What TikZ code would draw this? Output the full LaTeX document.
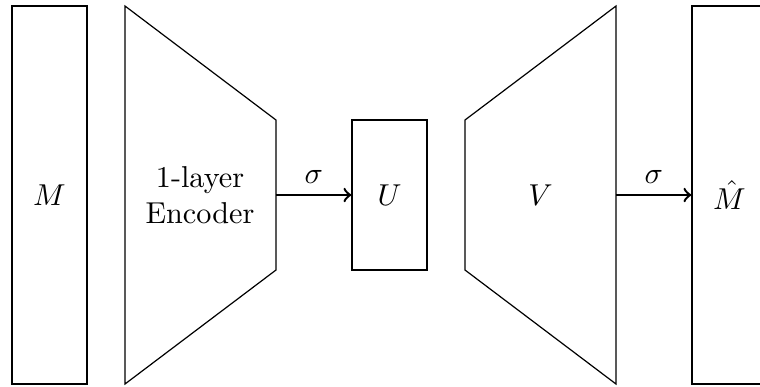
\documentclass[tikz,border=0pt]{standalone}
\usepackage{amsmath}
\usepackage{tikz}
\usetikzlibrary{positioning, calc}

\begin{document}
\begin{tikzpicture}[
    x=0.331pt, y=-0.331pt,
    block/.style={draw, minimum width=75*0.331pt, inner sep=0pt},
    label/.style={font=\normalsize, align=center},
    arr/.style={->, thick},
]
\useasboundingbox (0,0) rectangle (760,386);

% Input matrix
\node[block, minimum height=378*0.331pt] (m) at (49.5, 195) {$M$};

% Encoder (trapezoid)
\coordinate (enc-tl) at (125, 6);
\coordinate (enc-bl) at (125, 384);
\coordinate (enc-tr) at (276, 120);
\coordinate (enc-br) at (276, 270);
\draw (enc-tl) -- (enc-tr) -- (enc-br) -- (enc-bl) -- cycle;
\node[label] (enc) at (200, 195) {1-layer\\Encoder};
\coordinate (enc-out) at ($(enc-tr)!0.5!(enc-br)$);

% Latent code
\node[block, minimum height=150*0.331pt] (u) at (389.5, 195) {$U$};

% Decoder (trapezoid)
\coordinate (dec-tl) at (465, 120);
\coordinate (dec-bl) at (465, 270);
\coordinate (dec-tr) at (616, 6);
\coordinate (dec-br) at (616, 384);
\draw (dec-tl) -- (dec-tr) -- (dec-br) -- (dec-bl) -- cycle;
\node[label] (dec) at (540.5, 195) {$V$};
\coordinate (dec-out) at ($(dec-tr)!0.5!(dec-br)$);

% Reconstruction
\node[block, minimum height=378*0.331pt] (mhat) at (729.5, 195) {$\hat{M}$};

\draw[arr] (enc-out) -- node[above] {$\sigma$} (u.west);
\draw[arr] (dec-out) -- node[above] {$\sigma$} (mhat.west);

\end{tikzpicture}
\end{document}
